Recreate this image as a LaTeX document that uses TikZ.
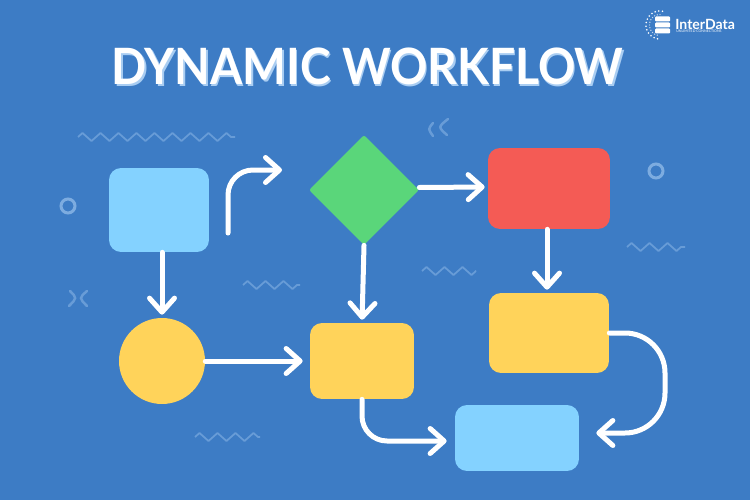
\documentclass[tikz,border=0pt]{standalone}
\usepackage{fontspec}
\usepackage{xcolor}
\usepackage{tikz}
\usetikzlibrary{arrows.meta,decorations.pathmorphing,shapes.geometric}
\setmainfont{Lato}
\newfontfamily\titlefont[FakeStretch=.925]{Lato}
\definecolor{WorkflowBack}{HTML}{3D7CC5}
\definecolor{WorkflowSky}{HTML}{84D2FF}
\definecolor{WorkflowYellow}{HTML}{FFD35A}
\definecolor{WorkflowRed}{HTML}{F45B55}
\definecolor{WorkflowGreen}{HTML}{5AD67A}
\definecolor{WorkflowHalo}{HTML}{A9CDF2}
\tikzset{
   boxnode/.style={rectangle,rounded corners=.24cm,inner sep=0pt},
   flow/.style={draw=white,line width=.1cm,-{Straight Barb[length=.28cm,width=.5cm,line width=.1cm,round]},line cap=round,shorten >=.06cm},
   wiggle/.style={draw=WorkflowHalo,opacity=.4,line width=.035cm,line join=round,decorate,decoration={zigzag,segment length=.36cm,amplitude=.08cm}},
   ringmark/.style={draw=WorkflowHalo,opacity=.6,line width=.06cm},
   faint/.style={draw=WorkflowHalo,opacity=.4,line width=.05cm,line cap=round},
   titletext/.style={font=\titlefont\bfseries\fontsize{28.5}{30}\selectfont}
}

\begin{document}
\begin{tikzpicture}[x=.02cm,y=-.02cm]
   \fill[WorkflowBack] (0,0) rectangle (750,500);
   \useasboundingbox (0,0) rectangle (750,500);

   % background marks
   \foreach \xa/\xb/\ya in {78/235/137,243/300/285,195/260/437,422/476/271,627/685/247}
      \draw[wiggle] (\xa,\ya) -- (\xb,\ya);
   \draw[ringmark] (68,206) circle (7);
   \draw[ringmark] (656,171) circle (7);
   \draw[faint] (433,123) .. controls (428,129) .. (433,136);
   \draw[faint] (448,119) .. controls (438,127) .. (447,135);
   \draw[faint] (70,291) .. controls (77,298) .. (69,306);
   \draw[faint] (87,291) .. controls (79,298) .. (87,306);

   % title
   \node[titletext,text=WorkflowHalo] (titleback) at (369,68) {DYNAMIC WORKFLOW};
   \node[titletext,text=white] (title) at (367.5,66.5) {DYNAMIC WORKFLOW};

   % logo
   \foreach \a in {100,115,...,280}
      \fill[white] (660,25) ++(\a:14) circle (.9);
   \foreach \a in {105,120,...,270}
      \fill[white,opacity=.7] (660,25) ++(\a:10.5) circle (.7);
   \foreach \yb in {16.5,22.5,28.5}
      \fill[white,rounded corners=.02cm] (655,\yb) rectangle (670,\yb+5);
   \node[anchor=west,inner sep=0pt,text=white,font=\bfseries\fontsize{8}{8}\selectfont] (brand) at (675,24) {InterData};
   \node[anchor=west,inner sep=0pt,text=white,font=\fontsize{2}{2}\selectfont] (tagline) at (676,31.5) {UNLIMITED CONNECTIONS};

   % shapes
   \node[boxnode,fill=WorkflowSky,minimum width=2cm,minimum height=1.68cm] (start) at (159,210) {};
   \node[circle,fill=WorkflowYellow,inner sep=0pt,minimum size=1.72cm] (dot) at (162,361) {};
   \node[diamond,fill=WorkflowGreen,inner sep=0pt,minimum width=2.2cm,minimum height=2.2cm,rounded corners=.04cm] (test) at (364,190) {};
   \node[boxnode,fill=WorkflowRed,minimum width=2.44cm,minimum height=1.62cm] (alert) at (549,188.5) {};
   \node[boxnode,fill=WorkflowYellow,minimum width=2.08cm,minimum height=1.52cm] (task) at (362,361) {};
   \node[boxnode,fill=WorkflowYellow,minimum width=2.4cm,minimum height=1.6cm] (review) at (549,333) {};
   \node[boxnode,fill=WorkflowSky,minimum width=2.48cm,minimum height=1.32cm] (finish) at (517,438) {};

   % connectors
   \coordinate (upa) at (228,233);
   \coordinate (upb) at (285,170);
   \coordinate (looptop) at (665,333);
   \coordinate (loopend) at (665,433);
   \draw[flow] (dot.north |- start.south) -- (dot.north);
   \draw[flow,rounded corners=.5cm] (upa) |- (upb);
   \draw[flow] ([yshift=.05cm]test.east) -- ([yshift=.03cm]alert.west);
   \draw[flow] ([xshift=-.04cm]alert.south) -- ([xshift=-.04cm]review.north);
   \draw[flow] (test.south) -- (task.north);
   \draw[flow,shorten >=.14cm] (dot.east) -- (task.west);
   \draw[flow,rounded corners=.5cm,shorten >=.16cm] (task.south) |- ([yshift=-.06cm]finish.west);
   \draw[flow,rounded corners=.8cm,shorten >=.34cm] (review.east) -- (looptop) -- (loopend) -- ([yshift=.1cm]finish.east);
\end{tikzpicture}
\end{document}
